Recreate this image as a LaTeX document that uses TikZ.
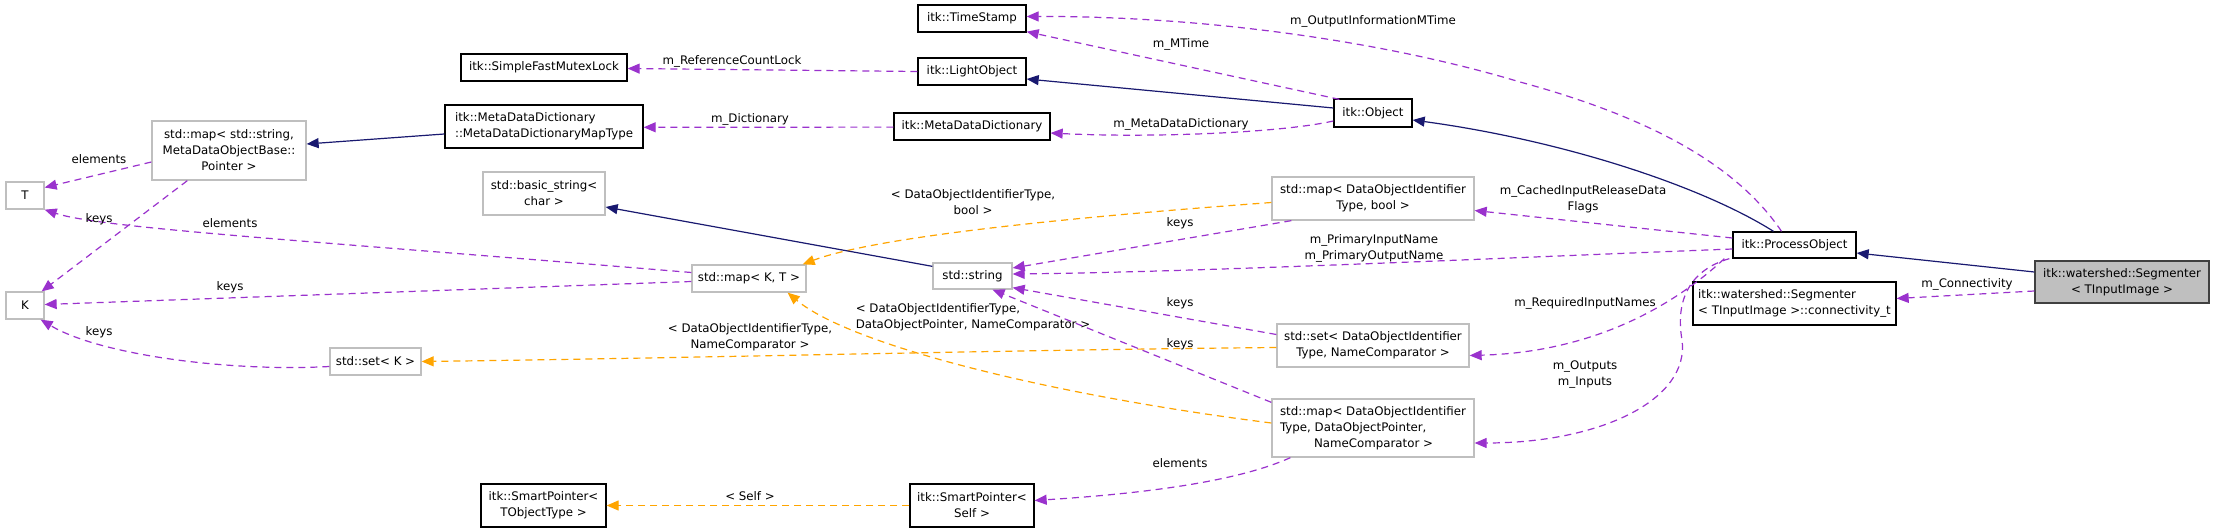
\documentclass[tikz,border=0pt]{standalone}
\usepackage{fontspec}
\setmainfont{DejaVu Sans}
\usetikzlibrary{arrows.meta,calc}
\definecolor{navyc}{HTML}{191970}
\definecolor{purpc}{HTML}{9A32CD}
\definecolor{orangec}{HTML}{FFA500}
\definecolor{grayb}{HTML}{BFBFBF}
\definecolor{segfill}{HTML}{BFBFBF}
\newcommand{\dfont}{\fontsize{11.8}{16}\selectfont}
\begin{document}
\begin{tikzpicture}[x=1pt,y=-1pt,
 box/.style={draw=black,line width=1.3pt,fill=white,inner sep=0pt,align=center,font=\dfont},
 gbox/.style={box,draw=grayb},
 lbl/.style={inner sep=0pt,align=center,font=\dfont},
 tip/.style={-{Triangle[length=12pt,width=10pt]}},
 inh/.style={draw=navyc,line width=1.2pt,tip},
 mem/.style={draw=purpc,line width=1.2pt,dash pattern=on 7pt off 5pt,tip},
 tpl/.style={draw=orangec,line width=1.2pt,dash pattern=on 7pt off 5pt,tip},
]
\useasboundingbox[fill=white] (0,0) rectangle (2213,532);

% nodes
\node[box,fill=segfill,draw=black!75,minimum width=174,minimum height=42] (seg) at (2122,282) {itk::watershed::Segmenter\\< TInputImage >};
\node[box,align=left,minimum width=203,minimum height=43] (conn) at (1794.5,303.5) {itk::watershed::Segmenter\\< TInputImage >::connectivity\_t};
\node[box,minimum width=123,minimum height=26] (po) at (1794.5,245) {itk::ProcessObject};
\node[box,minimum width=78,minimum height=28] (obj) at (1373,113) {itk::Object};
\node[box,minimum width=108,minimum height=27] (ts) at (972,18.5) {itk::TimeStamp};
\node[box,minimum width=108,minimum height=27] (lo) at (972,71.5) {itk::LightObject};
\node[box,minimum width=156,minimum height=27] (mdd) at (972,126.5) {itk::MetaDataDictionary};
\node[box,minimum width=166,minimum height=27] (sfml) at (544,67.5) {itk::SimpleFastMutexLock};
\node[box,align=left,minimum width=198,minimum height=43] (mapt) at (544,126.5) {itk::MetaDataDictionary\\::MetaDataDictionaryMapType};
\node[gbox,minimum width=154,minimum height=59] (mapstr) at (229,150.5) {std::map< std::string,\\MetaDataObjectBase::\\Pointer >};
\node[gbox,minimum width=38,minimum height=27] (T) at (25,195.5) {T};
\node[gbox,minimum width=38,minimum height=27] (K) at (25,305.5) {K};
\node[gbox,minimum width=122,minimum height=43] (bstr) at (544,193.5) {std::basic\_string<\\char >};
\node[gbox,minimum width=114,minimum height=27] (mapkt) at (749,278.5) {std::map< K, T >};
\node[gbox,minimum width=79,minimum height=26] (str) at (972.5,276) {std::string};
\node[gbox,minimum width=91,minimum height=27] (setk) at (375.5,361.5) {std::set< K >};
\node[box,minimum width=125,minimum height=43] (spt) at (543.5,505.5) {itk::SmartPointer<\\TObjectType >};
\node[box,minimum width=124,minimum height=43] (sps) at (972,505.5) {itk::SmartPointer<\\Self >};
\node[gbox,minimum width=202,minimum height=43] (mapb) at (1373,198.5) {std::map< DataObjectIdentifier\\Type, bool >};
\node[gbox,minimum width=192,minimum height=43] (setn) at (1373,345.5) {std::set< DataObjectIdentifier\\Type, NameComparator >};
\node[gbox,align=left,minimum width=202,minimum height=58] (mapd) at (1373,428) {std::map< DataObjectIdentifier\\Type, DataObjectPointer,\\\hspace*{34pt}NameComparator >};

% edges
\draw[inh] ($(seg.west)+(0,-10)$) -- ($(po.east)+(0,8)$);
\draw[mem] ($(seg.west)+(0,9)$) -- ($(conn.east)+(0,-5)$);
\draw[inh] ($(po.north)+(-21,0)$) .. controls (1700,185) and (1560,140) .. ($(obj.east)+(0,7)$);
\draw[mem] ($(po.north)+(-13,0)$) .. controls (1740,170) and (1660,120) .. (1520,82) .. controls (1380,40) and (1200,16) .. ($(ts.east)+(0,-2)$);
\draw[mem] ($(po.west)+(0,-7)$) -- ($(mapb.east)+(0,12)$);
\draw[mem] ($(po.west)+(0,4)$) .. controls (1500,258) and (1200,272) .. ($(str.east)+(0,-2)$);
\draw[mem] ($(po.south west)+(-8,0)$) .. controls (1680,300) and (1600,352) .. ($(setn.east)+(0,10)$);
\draw[mem] ($(po.south west)+(-3,0)$) .. controls (1690,270) and (1675,300) .. (1682,340) .. controls (1690,400) and (1600,443) .. ($(mapd.east)+(0,15)$);
\draw[inh] ($(obj.west)+(0,-5)$) -- ($(lo.east)+(0,7.5)$);
\draw[mem] ($(obj.north west)+(6,1)$) -- ($(ts.south east)+(0,-1)$);
\draw[mem] ($(obj.west)+(0,8)$) .. controls (1280,133) and (1150,138) .. ($(mdd.east)+(0,6.5)$);
\draw[mem] (lo.west) -- ($(sfml.east)+(0,1)$);
\draw[mem] ($(mdd.west)+(0,0.6)$) -- ($(mapt.east)+(0,0.8)$);
\draw[inh] ($(mapt.west)+(0,7.5)$) -- ($(mapstr.east)+(0,-6.5)$);
\draw[mem] ($(mapstr.west)+(0,11.5)$) -- ($(T.east)+(0,-8)$);
\draw[mem] ($(mapstr.south west)+(36,0)$) -- ($(K.north east)+(-3,0)$);
\draw[mem] ($(mapkt.west)+(0,-6)$) .. controls (300,240) and (100,228) .. (T.south east);
\draw[mem] ($(mapkt.west)+(0,3)$) -- ($(K.east)+(0,-1)$);
\draw[mem] ($(setk.west)+(0,5)$) .. controls (230,372) and (100,355) .. ($(K.south east)+(-4,0)$);
\draw[tpl] ($(mapb.west)+(0,4)$) .. controls (1100,215) and (880,235) .. ($(mapkt.north east)+(-4,0)$);
\draw[mem] ($(mapb.south west)+(20,0)$) -- ($(str.east)+(0,-8)$);
\draw[mem] ($(setn.west)+(0,-11)$) -- ($(str.south east)+(0,-2)$);
\draw[tpl] ($(setn.west)+(0,2)$) .. controls (1000,350) and (700,358) .. (setk.east);
\draw[tpl] ($(mapd.west)+(0,-5)$) .. controls (1050,395) and (850,345) .. ($(mapkt.south east)+(-19,0)$);
\draw[mem] ($(mapd.north west)+(0,4)$) -- ($(str.south)+(20,0)$);
\draw[mem] ($(mapd.south west)+(19,0)$) .. controls (1230,485) and (1120,495) .. ($(sps.east)+(0,-5)$);
\draw[tpl] (sps.west) -- (spt.east);
\draw[inh] ($(str.north west)+(0,4)$) -- ($(bstr.east)+(0,13.5)$);

% labels
\node[lbl] (l1) at (1967,284) {m\_Connectivity};
\node[lbl] (l2) at (1373,21) {m\_OutputInformationMTime};
\node[lbl] (l3) at (1583,199) {m\_CachedInputReleaseData\\Flags};
\node[lbl] (l4) at (1374,248) {m\_PrimaryInputName\\m\_PrimaryOutputName};
\node[lbl] (l5) at (1585,303) {m\_RequiredInputNames};
\node[lbl] (l6) at (1585,375) {m\_Outputs\\m\_Inputs};
\node[lbl] (l7) at (1181,44) {m\_MTime};
\node[lbl] (l8) at (1181,124) {m\_MetaDataDictionary};
\node[lbl] (l9) at (732,61) {m\_ReferenceCountLock};
\node[lbl] (l10) at (750,119) {m\_Dictionary};
\node[lbl] (l11) at (99,159) {elements};
\node[lbl] (l12) at (99,219) {keys};
\node[lbl] (l13) at (230,223) {elements};
\node[lbl] (l14) at (230,287) {keys};
\node[lbl] (l15) at (99,332) {keys};
\node[lbl] (l16) at (973,202) {< DataObjectIdentifierType,\\bool >};
\node[lbl] (l17) at (1180,223) {keys};
\node[lbl] (l18) at (1180,303) {keys};
\node[lbl] (l19) at (750,337) {< DataObjectIdentifierType,\\NameComparator >};
\node[lbl,align=left] (l20) at (973,317) {< DataObjectIdentifierType,\\DataObjectPointer, NameComparator >};
\node[lbl] (l21) at (1180,344) {keys};
\node[lbl] (l22) at (1180,463) {elements};
\node[lbl] (l23) at (750,496) {< Self >};
\end{tikzpicture}
\end{document}
